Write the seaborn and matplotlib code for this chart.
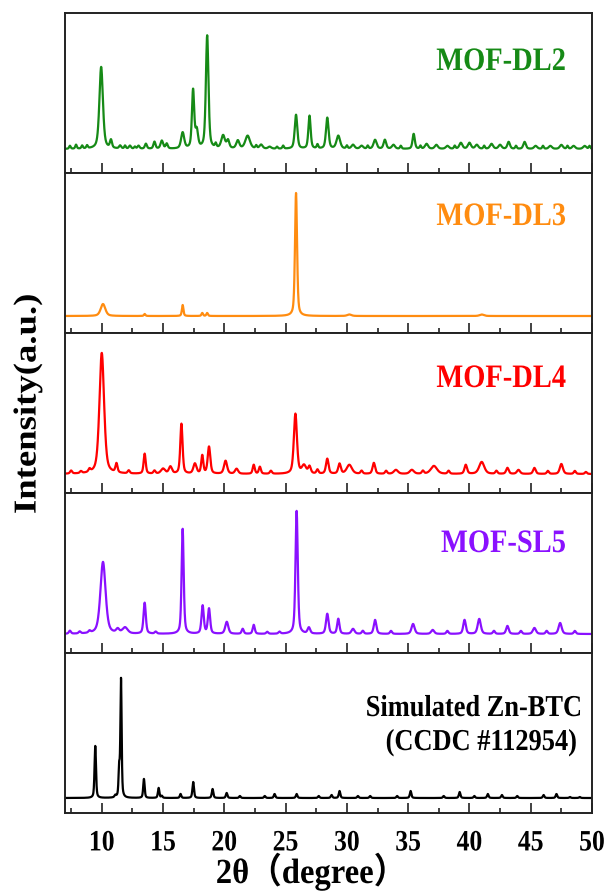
import numpy as np
import pandas as pd
import matplotlib
matplotlib.use("Agg")
import matplotlib.pyplot as plt
import seaborn as sns
from matplotlib.ticker import MultipleLocator
from matplotlib.patheffects import AbstractPathEffect
from matplotlib.transforms import Affine2D

sns.set_theme(style="white")
plt.rcParams['font.family'] = ['Liberation Serif', 'Noto Sans CJK SC', 'DejaVu Sans']
plt.rcParams['font.weight'] = 'bold'

# ---------------- data ----------------
sample_names = ["MOF-DL2", "MOF-DL3", "MOF-DL4", "MOF-SL5", "Simulated Zn-BTC"]
sim_subtitle = "(CCDC #112954)"
sample_colors = ["#168a16", "#ff8c10", "#ff0000", "#8a10ff", "#000000"]
baselines = [24, 17, 19, 19, 15]

# peak positions (2theta), heights above baseline (a.u.), widths (FWHM, degree)
dl2_pos = [7.4, 7.9, 8.4, 8.8, 9.95, 10.75, 11.5, 11.9, 12.3, 12.7, 13.0, 13.6, 14.3, 14.9, 15.3,
           16.6, 17.45, 17.75, 18.6, 19.3, 19.9, 20.3, 21.1, 21.9, 22.6, 23.0, 23.7, 24.3, 24.8,
           25.85, 26.95, 27.6, 28.4, 29.3, 30.0, 30.5, 31.2, 31.7, 32.3, 33.1, 33.8, 34.4, 35.45,
           36.0, 36.5, 37.3, 38.2, 38.8, 39.3, 40.0, 40.6, 41.2, 41.8, 42.5, 43.2, 43.8, 44.5,
           45.4, 46.0, 46.6, 47.5, 48.0, 48.5, 49.4, 49.8]
dl2_h = [3, 4, 3, 3, 82, 8, 3, 3, 3, 2, 3, 5, 7, 8, 5,
         16, 58, 17, 113, 4, 13, 8, 8, 13, 3, 4, 2, 2, 3,
         34, 33, 4, 31, 13, 3, 4, 3, 3, 9, 9, 4, 3, 15,
         3, 5, 4, 3, 3, 6, 6, 4, 3, 5, 4, 7, 3, 7,
         3, 3, 3, 4, 3, 3, 3, 3]
dl2_w = [0.15, 0.15, 0.15, 0.15, 0.34, 0.2, 0.2, 0.15, 0.2, 0.15, 0.2, 0.2, 0.2, 0.25, 0.2,
         0.3, 0.22, 0.25, 0.25, 0.15, 0.35, 0.25, 0.3, 0.45, 0.15, 0.3, 0.3, 0.15, 0.15,
         0.25, 0.22, 0.15, 0.25, 0.35, 0.15, 0.3, 0.3, 0.15, 0.3, 0.25, 0.3, 0.15, 0.22,
         0.15, 0.3, 0.3, 0.3, 0.15, 0.3, 0.3, 0.3, 0.15, 0.3, 0.3, 0.25, 0.15, 0.25,
         0.3, 0.15, 0.3, 0.3, 0.15, 0.3, 0.3, 0.15]

dl3_pos = [10.1, 13.5, 16.6, 18.2, 18.6, 25.85, 30.2, 41.0]
dl3_h = [12, 2, 11, 3, 3, 123, 1.5, 1.5]
dl3_w = [0.45, 0.15, 0.15, 0.15, 0.15, 0.2, 0.4, 0.4]

dl4_pos = [7.5, 8.3, 9.0, 10.0, 11.2, 12.2, 13.5, 14.3, 15.0, 15.6, 16.5, 17.6, 18.2, 18.75, 20.1,
           21.0, 22.4, 22.9, 23.8, 25.8, 26.5, 26.95, 27.6, 28.4, 29.4, 30.2, 31.2, 32.2, 33.2,
           34.0, 35.3, 36.2, 37.1, 38.3, 39.7, 41.0, 42.2, 43.1, 44.0, 45.3, 46.4, 47.5, 48.6, 49.5]
dl4_h = [3, 2, 3, 121, 9, 3, 20, 3, 5, 7, 50, 10, 18, 27, 13,
         5, 9, 7, 3, 60, 8, 7, 4, 15, 10, 9, 3, 11, 3,
         4, 4, 3, 8, 3, 9, 12, 3, 6, 4, 6, 3, 10, 3, 2]
dl4_w = [0.2, 0.2, 0.2, 0.45, 0.2, 0.2, 0.2, 0.2, 0.4, 0.3, 0.22, 0.3, 0.2, 0.25, 0.3,
         0.3, 0.2, 0.2, 0.2, 0.3, 0.4, 0.25, 0.2, 0.25, 0.25, 0.5, 0.2, 0.25, 0.2,
         0.4, 0.4, 0.2, 0.6, 0.2, 0.25, 0.5, 0.2, 0.25, 0.3, 0.25, 0.2, 0.3, 0.2, 0.2]

sl5_pos = [7.4, 8.2, 9.0, 10.1, 11.3, 11.9, 13.5, 14.4, 16.6, 18.23, 18.75, 20.2, 21.5, 22.4,
           23.5, 24.5, 25.9, 26.9, 28.4, 29.3, 30.5, 31.3, 32.3, 33.6, 35.4, 37.0, 38.2, 39.6,
           40.8, 42.0, 43.1, 44.2, 45.3, 46.3, 47.4, 48.6]
sl5_h = [3, 2, 2, 72, 4, 6, 31, 2, 105, 28, 25, 12, 5, 9,
         2, 2, 123, 6, 20, 15, 5, 3, 14, 3, 10, 4, 3, 14,
         15, 3, 8, 3, 6, 3, 11, 3]
sl5_w = [0.2, 0.2, 0.2, 0.5, 0.3, 0.5, 0.22, 0.2, 0.2, 0.22, 0.22, 0.3, 0.2, 0.2,
         0.2, 0.2, 0.22, 0.25, 0.25, 0.22, 0.3, 0.2, 0.25, 0.2, 0.3, 0.3, 0.2, 0.25,
         0.3, 0.2, 0.25, 0.2, 0.3, 0.2, 0.3, 0.2]

sim_pos = [9.47, 11.1, 11.42, 11.57, 13.44, 14.64, 14.9, 16.43, 17.46, 19.04, 20.19, 21.27, 23.3,
           24.1, 25.9, 27.7, 28.75, 29.4, 30.9, 31.9, 34.1, 35.2, 37.9, 39.2, 40.4, 41.5, 42.65,
           43.9, 46.05, 47.1, 48.2, 49.0]
sim_h = [52, 2, 28, 118, 19, 10, 2, 4, 16, 9, 5, 2, 2,
         4, 4, 2, 3, 7, 2, 2, 2, 7, 2, 6, 2, 4, 3,
         2, 3, 4, 1, 1]
sim_w = [0.14, 0.15, 0.12, 0.12, 0.14, 0.14, 0.14, 0.14, 0.15, 0.15, 0.15, 0.15, 0.15,
         0.15, 0.15, 0.15, 0.15, 0.15, 0.15, 0.15, 0.15, 0.15, 0.15, 0.15, 0.15, 0.15, 0.15,
         0.15, 0.15, 0.15, 0.15, 0.15]

peak_tables = [(dl2_pos, dl2_h, dl2_w), (dl3_pos, dl3_h, dl3_w), (dl4_pos, dl4_h, dl4_w),
               (sl5_pos, sl5_h, sl5_w), (sim_pos, sim_h, sim_w)]

x_ticks = [10, 15, 20, 25, 30, 35, 40, 45, 50]
x_limits = (7, 50)

# ---------------- build profiles from the peak tables ----------------
two_theta = np.arange(7.0, 50.0001, 0.01)


def profile(pos, h, w, base):
    y = np.full_like(two_theta, float(base))
    for p, a, fw in zip(pos, h, w):
        g = fw / 2.0
        lor = 1.0 / (1.0 + ((two_theta - p) / g) ** 2)
        gau = np.exp(-np.log(2) * ((two_theta - p) / g) ** 2)
        y += a * (0.5 * lor + 0.5 * gau)
    return y


frames = []
for name, (pos, h, w), base in zip(sample_names, peak_tables, baselines):
    frames.append(pd.DataFrame({"two_theta": two_theta,
                                "intensity": profile(pos, h, w, base),
                                "sample": name}))
df = pd.concat(frames, ignore_index=True)


class Stretch(AbstractPathEffect):
    """Stretch glyphs in their own frame (about the baseline origin)."""

    def __init__(self, sx=1.0, sy=1.0):
        super().__init__()
        self.sx, self.sy = sx, sy

    def draw_path(self, renderer, gc, tpath, affine, rgbFace=None):
        renderer.draw_path(gc, tpath, Affine2D().scale(self.sx, self.sy) + affine, rgbFace)


# ---------------- figure ----------------
W, H = 610, 893
fig = plt.figure(figsize=(W / 100, H / 100), dpi=100)

left_px, right_px = 65, 592
panel_tops = [13, 173, 333, 493, 653]
panel_h = 160
# (right edge x, baseline y) of each label
label_pos = [(566, 70), (566, 225), (566, 387), (566, 552), (582, 716)]
STRETCH = 1.15

axes = []
for i, name in enumerate(sample_names):
    top = panel_tops[i]
    ax = fig.add_axes([left_px / W, 1 - (top + panel_h) / H, (right_px - left_px) / W, panel_h / H])
    sub = df[df["sample"] == name]
    sns.lineplot(data=sub, x="two_theta", y="intensity", ax=ax, color=sample_colors[i],
                 linewidth=1.6, estimator=None, sort=False, legend=False)
    ax.set_xlim(*x_limits)
    ax.set_ylim(0, 160)
    ax.set_yticks([])
    ax.set_xlabel("")
    ax.set_ylabel("")
    ax.xaxis.set_major_locator(MultipleLocator(5))
    ax.xaxis.set_minor_locator(MultipleLocator(2.5))
    ax.tick_params(axis="x", which="major", direction="in", length=7, width=1.2,
                   bottom=True, top=False, color="#222222")
    ax.tick_params(axis="x", which="minor", direction="in", length=3.5, width=1.2,
                   bottom=True, top=False, color="#222222")
    for s in ax.spines.values():
        s.set_linewidth(1.4)
        s.set_color("#222222")
        s.set_visible(True)
    if i < len(sample_names) - 1:
        ax.tick_params(axis="x", labelbottom=False)
    else:
        ax.set_xticks(x_ticks)
        ax.set_xticklabels([str(t) for t in x_ticks])
        ax.tick_params(axis="x", labelsize=18.5, pad=14, labelcolor="black")
        for lab in ax.get_xticklabels():
            lab.set_fontweight("bold")
            lab.set_path_effects([Stretch(1.0, STRETCH)])
    lx, ly = label_pos[i]
    fs = 20.5 if i < 4 else 19
    t = fig.text(lx / W, 1 - ly / H, name, ha="right", va="baseline", color=sample_colors[i],
                 fontsize=fs, fontweight="bold")
    t.set_path_effects([Stretch(1.0, STRETCH)])
    axes.append(ax)

t = fig.text(577 / W, 1 - 750 / H, sim_subtitle, ha="right", va="baseline", color="black",
             fontsize=19, fontweight="bold")
t.set_path_effects([Stretch(1.0, STRETCH)])

t = fig.text(311 / W, 1 - 883 / H, "2θ（degree）", ha="center", va="baseline",
             fontsize=23.5, fontweight="bold", color="black")
t.set_path_effects([Stretch(1.0, 1.08)])
t = fig.text(28 / W, 1 - 418 / H, "Intensity(a.u.)", ha="center", va="center", rotation=90,
             fontsize=23, fontweight="bold", color="black")
t.set_path_effects([Stretch(1.15, 1.0)])

fig.savefig("out.png", dpi=100)
